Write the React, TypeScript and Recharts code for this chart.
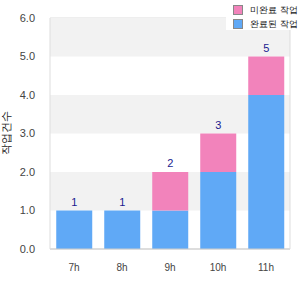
import React from 'react';
import { BarChart, Bar, XAxis, YAxis, CartesianGrid, LabelList, ReferenceArea } from 'recharts';

const categories = ['7h', '8h', '9h', '10h', '11h'];
const doneValues = [1, 1, 1, 2, 4];
const pendingValues = [0, 0, 1, 1, 1];
const yTicks = [0, 1, 2, 3, 4, 5, 6];
const shadedBandStarts = [1, 3, 5];
const seriesNames = ['완료된 작업', '미완료 작업'];
const yLabel = '작업건수';

const data = categories.map((c, i) => ({
  name: c,
  done: doneValues[i],
  pending: pendingValues[i],
  total: doneValues[i] + pendingValues[i],
}));

const FONT = '"Liberation Sans", Arial, sans-serif';

const TotalLabel = (props: any) => {
  const { x, y, width, height, index } = props;
  const d = data[index];
  const pxPerUnit = height / d.done;
  const top = y - d.pending * pxPerUnit;
  return (
    <text x={x + width / 2} y={top - 5} textAnchor="middle" fill="#1a1a8f" fontSize={11} fontFamily={FONT}>
      {d.total}
    </text>
  );
};

export default function App() {
  return (
    <div style={{ position: 'absolute', left: 0, top: 0, width: 300, height: 300, background: '#fff', fontFamily: FONT }}>
      <BarChart
        width={300}
        height={300}
        data={data}
        margin={{ top: 18, right: 0, bottom: 23, left: 0 }}
        barCategoryGap="13%"
      >
        {shadedBandStarts.map((s) => (
          <ReferenceArea
            key={s}
            yAxisId="left"
            y1={s}
            y2={s + 1}
            fill="#f2f2f2"
            fillOpacity={1}
            stroke="none"
          />
        ))}
        <CartesianGrid vertical={false} stroke="#dddddd" fill="none" />
        <XAxis
          dataKey="name"
          tickLine={false}
          axisLine={{ stroke: '#cccccc' }}
          tick={{ fill: '#444', fontSize: 10, fontFamily: FONT }}
          tickMargin={9}
          height={28}
        />
        <YAxis
          yAxisId="left"
          domain={[0, 6]}
          ticks={yTicks}
          tickFormatter={(v: number) => v.toFixed(1)}
          tickLine={false}
          axisLine={{ stroke: '#dddddd' }}
          tick={{ fill: '#444', fontSize: 11, fontFamily: FONT }}
          tickMargin={9}
          width={50}
        />
        <YAxis
          yAxisId="right"
          orientation="right"
          domain={[0, 6]}
          ticks={yTicks}
          tick={false}
          tickLine={false}
          axisLine={{ stroke: '#dddddd' }}
          width={10}
        />
        <Bar yAxisId="left" dataKey="done" stackId="a" fill="#60a9f6" isAnimationActive={false}>
          <LabelList dataKey="total" content={TotalLabel} />
        </Bar>
        <Bar yAxisId="left" dataKey="pending" stackId="a" fill="#f283bb" isAnimationActive={false} />
      </BarChart>
      <div
        style={{
          position: 'absolute',
          left: 6,
          top: 133,
          transform: 'translate(-50%, -50%) rotate(-90deg)',
          fontSize: 11,
          color: '#222',
          whiteSpace: 'nowrap',
        }}
      >
        {yLabel}
      </div>
      <div
        style={{
          position: 'absolute',
          left: 226,
          top: 0,
          width: 74,
          height: 30,
          background: '#fff',
          fontSize: 9,
          color: '#111',
        }}
      >
        {[1, 0].map((idx, row) => (
          <div key={idx} style={{ position: 'absolute', left: 7, top: 4 + row * 14, height: 12, display: 'flex', alignItems: 'center', whiteSpace: 'nowrap' }}>
            <span
              style={{
                display: 'inline-block',
                width: 8,
                height: 8,
                background: idx === 1 ? '#f283bb' : '#60a9f6',
                border: '1px solid #888',
                marginRight: 7,
                flexShrink: 0,
              }}
            />
            <span style={{ lineHeight: '12px' }}>{seriesNames[idx]}</span>
          </div>
        ))}
      </div>
    </div>
  );
}
